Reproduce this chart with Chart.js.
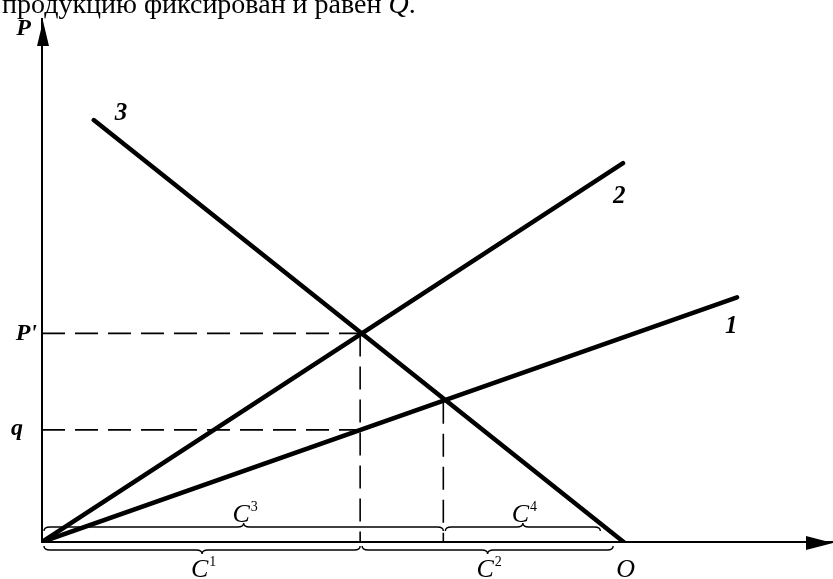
<!DOCTYPE html>
<html>
<head>
<meta charset="utf-8">
<script src="https://cdn.jsdelivr.net/npm/chart.js@4/dist/chart.umd.min.js"></script>
<style>
  html, body { margin: 0; padding: 0; background: #fff; }
  #wrap { width: 833px; height: 579px; position: relative; }
</style>
</head>
<body>
<div id="wrap"><canvas id="c" width="833" height="579"></canvas></div>
<script>
// Heading line of the text above the figure
const headline = 'продукцию фиксирован и равен ';
const headlineTail = 'Q';

// Cost / price lines, as [x, y] end points
const line1 = [[0, 0], [11.95, 4.21]];
const line2 = [[0, 0], [9.99, 6.52]];
const line3 = [[0.89, 7.26], [10, 0]];
const lineNames = ['1', '2', '3'];

// Crossings of line 3 with lines 2 and 1
const crossings = [[5.47, 3.59], [6.9, 2.43]];

// Price levels on the vertical axis
const priceLevels = [3.59, 1.93];
const priceLabels = ["P'", 'q'];

// Output volume Q on the horizontal axis
const outputQ = 10;
const axisNames = ['P', 'O'];

// Brace spans along the horizontal axis
const bracesBelow = [[0, 5.47], [5.47, 9.82]];
const bracesAbove = [[0, 6.9], [6.9, 9.6]];
const braceNamesBelow = [['C', '1'], ['C', '2']];
const braceNamesAbove = [['C', '3'], ['C', '4']];

const pts = arr => arr.map(([x, y]) => ({ x, y }));

const solid = (data) => ({
  data: pts(data), showLine: true, pointRadius: 0,
  borderColor: '#000', borderWidth: 4.5, borderCapStyle: 'round', fill: false
});
const dashed = (data) => ({
  data: pts(data), showLine: true, pointRadius: 0,
  borderColor: '#000', borderWidth: 1.6, borderDash: [23, 10], fill: false
});

const datasets = [
  solid(line1), solid(line2), solid(line3),
  dashed([[0, priceLevels[0]], crossings[0]]),
  dashed([[0, priceLevels[1]], [crossings[0][0], priceLevels[1]]]),
  dashed([crossings[0], [crossings[0][0], 0]]),
  dashed([crossings[1], [crossings[1][0], 0]])
];

const SERIF = '"Liberation Serif", "DejaVu Serif", serif';

function brace(ctx, xa, xb, y, dir) {
  const mid = (xa + xb) / 2, h = 4 * dir, r = 6;
  ctx.beginPath();
  ctx.moveTo(xa, y - h);
  ctx.quadraticCurveTo(xa, y, xa + r, y);
  ctx.lineTo(mid - r, y);
  ctx.quadraticCurveTo(mid, y, mid, y + h);
  ctx.quadraticCurveTo(mid, y, mid + r, y);
  ctx.lineTo(xb - r, y);
  ctx.quadraticCurveTo(xb, y, xb, y - h);
  ctx.stroke();
}

function supLabel(ctx, base, sup, cx, baseline) {
  ctx.font = 'italic 26px ' + SERIF;
  const w1 = ctx.measureText(base).width;
  ctx.font = '14px ' + SERIF;
  const w2 = ctx.measureText(sup).width;
  const x0 = cx - (w1 + w2) / 2;
  ctx.font = 'italic 26px ' + SERIF;
  ctx.textAlign = 'left';
  ctx.fillText(base, x0, baseline);
  ctx.font = '14px ' + SERIF;
  ctx.fillText(sup, x0 + w1 + 1, baseline - 11);
}

const figureDecor = {
  id: 'figureDecor',
  afterDatasetsDraw(chart) {
    const { ctx, scales: { x, y } } = chart;
    const X = v => x.getPixelForValue(v), Y = v => y.getPixelForValue(v);
    const x0 = X(0), y0 = Y(0);
    ctx.save();
    ctx.fillStyle = '#000';
    ctx.strokeStyle = '#000';

    // heading text
    ctx.textBaseline = 'alphabetic';
    ctx.textAlign = 'left';
    ctx.font = '28px ' + SERIF;
    ctx.fillText(headline, 2, 13);
    const hw = ctx.measureText(headline).width;
    ctx.font = 'italic 28px ' + SERIF;
    ctx.fillText(headlineTail, 2 + hw, 13);
    const qw = ctx.measureText(headlineTail).width;
    ctx.font = '28px ' + SERIF;
    ctx.fillText('.', 2 + hw + qw, 13);

    // axis arrows
    const yTop = Y(y.max);
    ctx.beginPath();
    ctx.moveTo(x0 + 1, yTop + 2);
    ctx.lineTo(x0 + 7, yTop + 27);
    ctx.lineTo(x0 - 5, yTop + 27);
    ctx.closePath();
    ctx.fill();
    const xEnd = X(x.max);
    ctx.beginPath();
    ctx.moveTo(xEnd, y0 + 1);
    ctx.lineTo(xEnd - 27, y0 - 6);
    ctx.lineTo(xEnd - 27, y0 + 8);
    ctx.closePath();
    ctx.fill();

    // axis names
    ctx.font = 'bold italic 24px ' + SERIF;
    ctx.textAlign = 'right';
    ctx.fillText(axisNames[0], x0 - 11, yTop + 16);
    ctx.font = 'italic 26px ' + SERIF;
    ctx.textAlign = 'center';
    ctx.fillText(axisNames[1], X(outputQ) + 2, y0 + 35);

    // price level labels
    ctx.font = 'bold italic 24px ' + SERIF;
    ctx.textAlign = 'right';
    ctx.fillText(priceLabels[0], x0 - 5, Y(priceLevels[0]) + 7);
    ctx.fillText(priceLabels[1], x0 - 19, Y(priceLevels[1]) + 5);

    // line numbers
    ctx.font = 'bold italic 25px ' + SERIF;
    ctx.textAlign = 'left';
    ctx.fillText(lineNames[0], X(line1[1][0]) - 12, Y(line1[1][1]) + 36);
    ctx.fillText(lineNames[1], X(line2[1][0]) - 10, Y(line2[1][1]) + 40);
    ctx.fillText(lineNames[2], X(line3[0][0]) + 21, Y(line3[0][1]) + 0);

    // braces and their labels
    ctx.lineWidth = 1.4;
    bracesAbove.forEach(([a, b], i) => {
      brace(ctx, X(a) + 2, X(b), y0 - 15, -1);
      supLabel(ctx, braceNamesAbove[i][0], braceNamesAbove[i][1], (X(a) + X(b)) / 2 + 2, y0 - 20);
    });
    bracesBelow.forEach(([a, b], i) => {
      brace(ctx, X(a) + 2, X(b), y0 + 8, 1);
      supLabel(ctx, braceNamesBelow[i][0], braceNamesBelow[i][1], (X(a) + X(b)) / 2 + 2, y0 + 35);
    });
    ctx.restore();
  }
};

new Chart(document.getElementById('c'), {
  type: 'scatter',
  data: { datasets },
  options: {
    responsive: false,
    animation: false,
    devicePixelRatio: 1,
    layout: { padding: { left: 42, right: 0, top: 19, bottom: 37 } },
    plugins: { legend: { display: false }, tooltip: { enabled: false }, title: { display: false } },
    scales: {
      x: {
        type: 'linear', min: 0, max: 13.6,
        ticks: { display: false },
        grid: { display: false, drawTicks: false },
        border: { display: true, color: '#000', width: 2 }
      },
      y: {
        type: 'linear', min: 0, max: 9,
        ticks: { display: false },
        grid: { display: false, drawTicks: false },
        border: { display: true, color: '#000', width: 2 }
      }
    }
  },
  plugins: [figureDecor]
});
</script>
</body>
</html>
